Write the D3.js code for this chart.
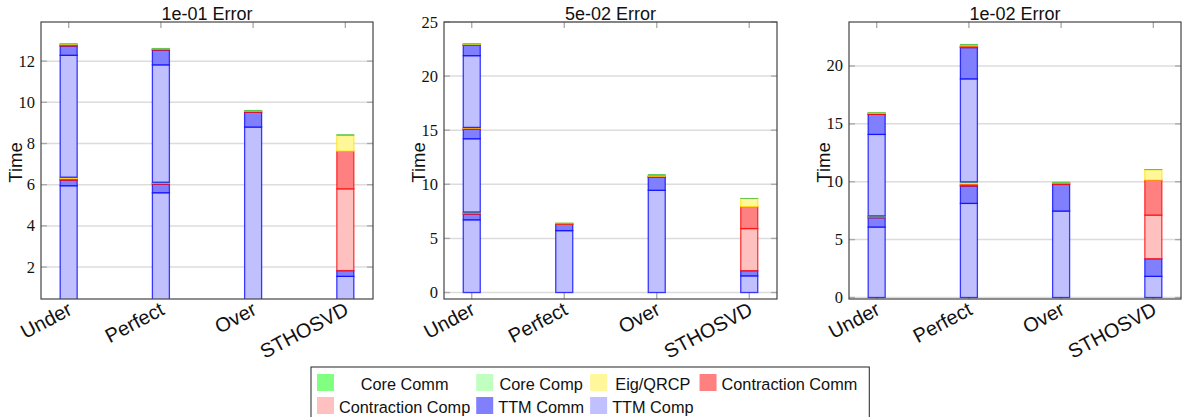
<!DOCTYPE html>
<html>
<head>
<meta charset="utf-8">
<script src="https://cdn.jsdelivr.net/npm/d3@7/dist/d3.min.js"></script>
<style>
  body { margin: 0; background: #fff; }
  svg { display: block; }
</style>
</head>
<body>
<svg id="chart" width="1182" height="417"></svg>
<script>
// categories and series (stack order, bottom -> top)
const categories = ['Under', 'Perfect', 'Over', 'STHOSVD'];
const seriesNames = ['TTM Comp', 'TTM Comm', 'Contraction Comp', 'Contraction Comm', 'Eig/QRCP', 'Core Comp', 'Core Comm'];
const seriesFill = ['#c0c0ff', '#8080ff', '#ffc0c0', '#ff8080', '#fff799', '#c0ffc0', '#80ff80'];
const seriesStroke = ['#0000ff', '#0000ff', '#ff0000', '#ff0000', '#ffe600', '#66cc66', '#44bb44'];
const panelTitles = ['1e-01 Error', '5e-02 Error', '1e-02 Error'];
const yDomains = [[0.45, 13.9], [-0.6, 25], [-0.13, 23.8]];
const yTickValues = [[2, 4, 6, 8, 10, 12], [0, 5, 10, 15, 20, 25], [0, 5, 10, 15, 20]];

// each bar = list of cycles; each cycle follows seriesNames order
const err1e01 = [
  [[5.95, 0.27, 0.03, 0.05, 0.05, 0.01, 0.005], [5.92, 0.45, 0.03, 0.04, 0.03, 0.005, 0.005]],
  [[5.61, 0.42, 0.02, 0.03, 0.03, 0.005, 0.005], [5.70, 0.72, 0.02, 0.03, 0.02, 0.005, 0.005]],
  [[8.80, 0.72, 0.02, 0.03, 0.01, 0.01, 0.02]],
  [[1.55, 0.28, 3.97, 1.83, 0.76, 0.02, 0.02]]
];
const err5e02 = [
  [[6.72, 0.52, 0.06, 0.06, 0.06, 0.01, 0.01], [6.77, 0.87, 0.05, 0.06, 0.05, 0.01, 0.01], [6.63, 0.95, 0.04, 0.05, 0.04, 0.01, 0.01]],
  [[5.72, 0.59, 0.02, 0.04, 0.02, 0.01, 0.01]],
  [[9.45, 1.20, 0.04, 0.06, 0.05, 0.05, 0.06]],
  [[1.54, 0.48, 3.89, 2.03, 0.74, 0.01, 0.01]]
];
const err1e02 = [
  [[6.09, 0.80, 0.04, 0.05, 0.05, 0.01, 0.01], [7.04, 1.73, 0.04, 0.05, 0.04, 0.005, 0.005]],
  [[8.13, 1.50, 0.08, 0.11, 0.13, 0.02, 0.02], [8.90, 2.70, 0.06, 0.09, 0.06, 0.03, 0.04]],
  [[7.47, 2.30, 0.05, 0.07, 0.05, 0.01, 0.01]],
  [[1.83, 1.52, 3.77, 3.03, 0.89, 0.01, 0.01]]
];
const panelData = [err1e01, err5e02, err1e02];

const svg = d3.select('#chart');
const panels = [{ left: 41, right: 373 }, { left: 444, right: 777 }, { left: 849, right: 1181 }];
const plotTop = 22, plotBottom = 299;
const barW = 17;
const sans = '"Liberation Sans", Arial, sans-serif';

panels.forEach((p, pi) => {
  const g = svg.append('g');
  const x = d3.scaleLinear().domain([-0.3, categories.length - 0.7]).range([p.left, p.right]);
  const y = d3.scaleLinear().domain(yDomains[pi]).range([plotBottom, plotTop]);

  const clipId = 'clip' + pi;
  svg.append('clipPath').attr('id', clipId)
    .append('rect').attr('x', p.left).attr('y', plotTop).attr('width', p.right - p.left).attr('height', plotBottom - plotTop);

  // grid
  g.append('g').selectAll('line').data(yTickValues[pi]).join('line')
    .attr('x1', p.left).attr('x2', p.right)
    .attr('y1', d => y(d)).attr('y2', d => y(d))
    .attr('stroke', '#dcdcdc').attr('stroke-width', 1.5);

  // inner ticks
  const tk = g.append('g').attr('stroke', '#a8a8a8').attr('stroke-width', 1.3);
  yTickValues[pi].forEach(v => {
    tk.append('line').attr('x1', p.left).attr('x2', p.left + 6).attr('y1', y(v)).attr('y2', y(v));
    tk.append('line').attr('x1', p.right - 6).attr('x2', p.right).attr('y1', y(v)).attr('y2', y(v));
  });
  categories.forEach((c, i) => {
    tk.append('line').attr('x1', x(i)).attr('x2', x(i)).attr('y1', plotTop).attr('y2', plotTop + 6);
    tk.append('line').attr('x1', x(i)).attr('x2', x(i)).attr('y1', plotBottom - 6).attr('y2', plotBottom);
  });

  // bars
  const bars = g.append('g').attr('clip-path', `url(#${clipId})`);
  panelData[pi].forEach((cycles, ci) => {
    let acc = 0;
    const segs = [];
    cycles.forEach(cyc => cyc.forEach((v, si) => {
      segs.push({ s: si, y0: acc, y1: acc + v });
      acc += v;
    }));
    bars.append('g').selectAll('rect').data(segs).join('rect')
      .attr('x', x(ci) - barW / 2)
      .attr('width', barW)
      .attr('y', d => y(d.y1))
      .attr('height', d => Math.max(0, y(d.y0) - y(d.y1)))
      .attr('fill', d => seriesFill[d.s])
      .attr('stroke', d => seriesStroke[d.s])
      .attr('stroke-opacity', 0.75)
      .attr('stroke-width', d => d.s >= 5 ? 0.8 : 1.3);
  });

  // frame
  g.append('rect').attr('x', p.left).attr('y', plotTop)
    .attr('width', p.right - p.left).attr('height', plotBottom - plotTop)
    .attr('fill', 'none').attr('stroke', '#444').attr('stroke-width', 1.2);

  // y tick labels
  g.append('g').selectAll('text').data(yTickValues[pi]).join('text')
    .attr('x', p.left - 6).attr('y', d => y(d))
    .attr('text-anchor', 'end').attr('dominant-baseline', 'central')
    .attr('font-family', '"Liberation Serif", serif').attr('font-size', 16.5)
    .attr('fill', '#111')
    .text(d => d);

  // x tick labels
  g.append('g').selectAll('text').data(categories).join('text')
    .attr('transform', (d, i) => `translate(${x(i) - 2},${plotBottom + 2}) rotate(-28)`)
    .attr('text-anchor', 'end').attr('dominant-baseline', 'hanging')
    .attr('font-family', sans).attr('font-size', 20)
    .attr('fill', '#111')
    .text(d => d);

  // title
  g.append('text').attr('x', (p.left + p.right) / 2).attr('y', 20)
    .attr('text-anchor', 'middle')
    .attr('font-family', sans).attr('font-size', 18)
    .attr('fill', '#111')
    .text(panelTitles[pi]);

  // y label
  g.append('text').attr('transform', `translate(${p.left - 26},${(plotTop + plotBottom) / 2 + 2}) rotate(-90)`)
    .attr('text-anchor', 'middle').attr('dominant-baseline', 'central')
    .attr('font-family', sans).attr('font-size', 18.5)
    .attr('fill', '#111')
    .text('Time');
});

// legend (4 columns, reverse stack order)
const legendOrder = seriesNames.map((_, i) => seriesNames.length - 1 - i);
const nCols = 4;
const lg = svg.append('g');
const fontL = 16.3;
const measure = lg.append('text').attr('font-family', sans).attr('font-size', fontL);
const widths = legendOrder.map(si => { measure.text(seriesNames[si]); return measure.node().getComputedTextLength(); });
measure.remove();
const colW = d3.range(nCols).map(c => d3.max(legendOrder.map((_, k) => k % nCols === c ? widths[k] : 0)) + 4);
const sw = 17, legX = 311, legY = 367, rowH = 23;
const colX = [];
let cx = legX + 6;
colW.forEach(w => { colX.push(cx); cx += sw + 3 + w + 4; });
lg.append('rect').attr('x', legX).attr('y', legY).attr('width', cx - legX + 6).attr('height', 60)
  .attr('fill', '#fff').attr('stroke', '#222').attr('stroke-width', 1);
legendOrder.forEach((si, k) => {
  const c = k % nCols, r = Math.floor(k / nCols);
  const yy = legY + 7 + r * rowH;
  lg.append('rect').attr('x', colX[c]).attr('y', yy).attr('width', sw).attr('height', sw)
    .attr('fill', seriesFill[si]);
  lg.append('text').attr('x', colX[c] + sw + 3 + colW[c] / 2).attr('y', yy + sw / 2 + 1)
    .attr('text-anchor', 'middle').attr('dominant-baseline', 'central')
    .attr('font-family', sans).attr('font-size', fontL)
    .attr('fill', '#111')
    .text(seriesNames[si]);
});
</script>
</body>
</html>
